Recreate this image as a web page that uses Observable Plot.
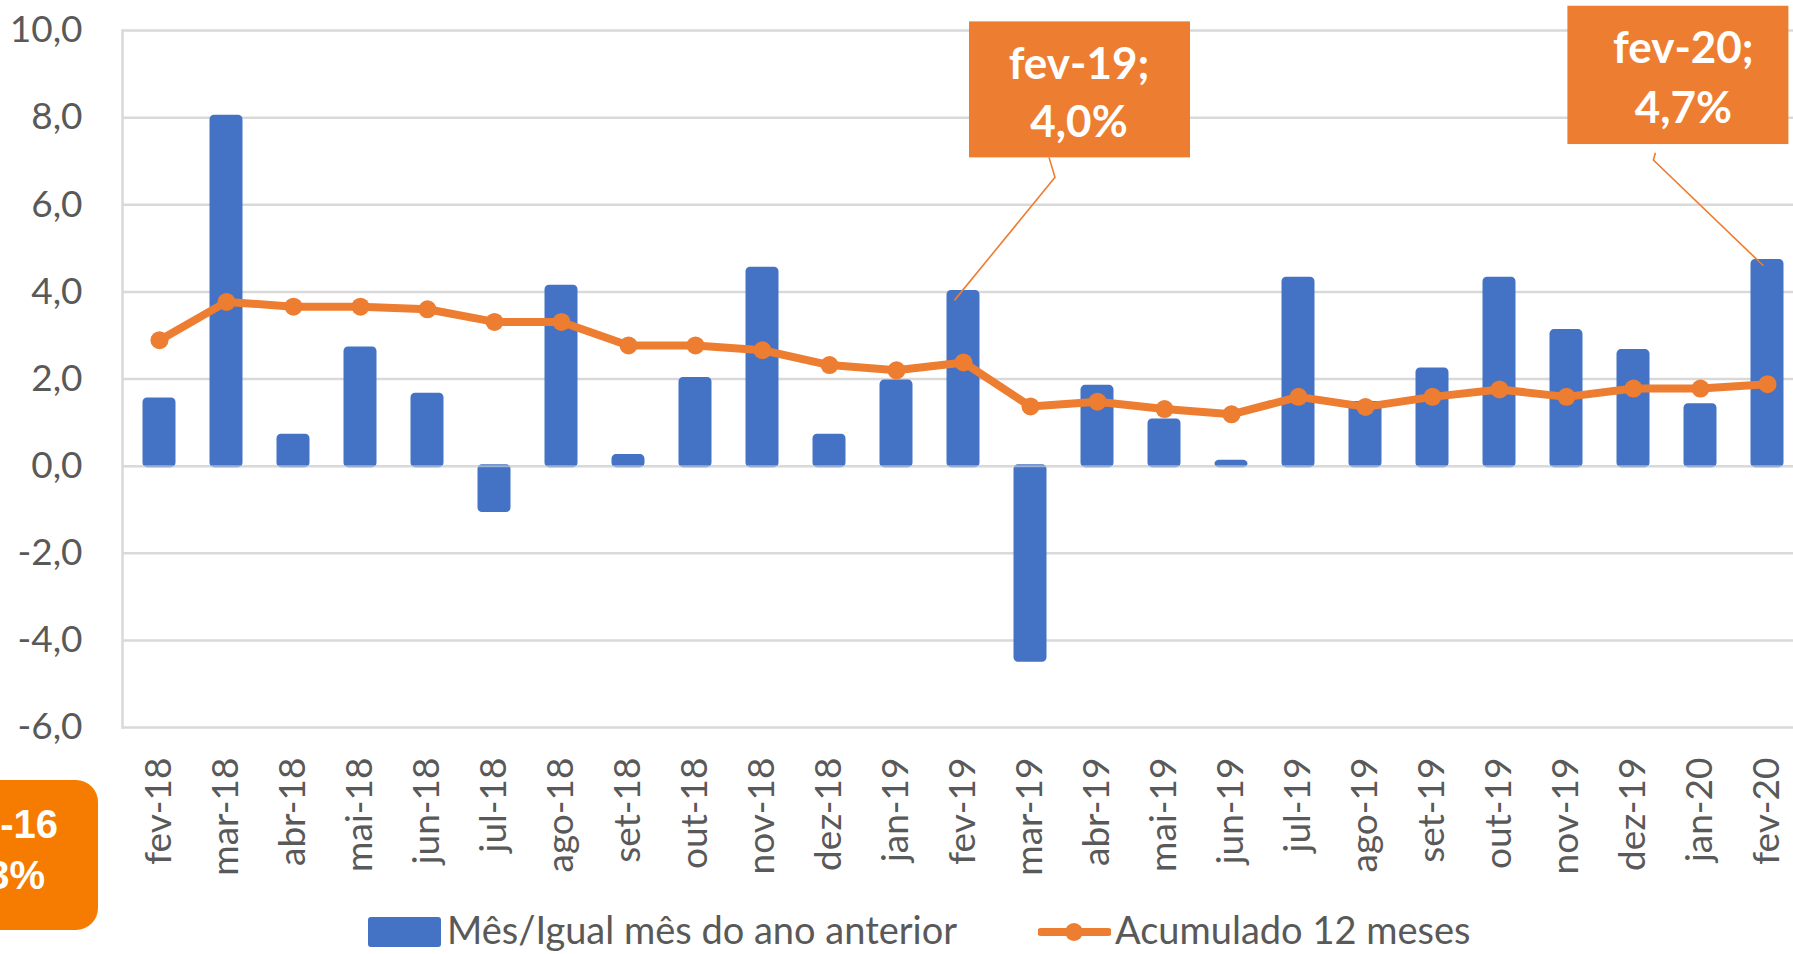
<!DOCTYPE html>
<html><head><meta charset="utf-8">
<script src="https://cdn.jsdelivr.net/npm/d3@7"></script>
<script src="https://cdn.jsdelivr.net/npm/@observablehq/plot@0.6"></script>
<style>
html,body{margin:0;padding:0;background:#fff;overflow:hidden;}
#wrap{position:relative;width:1793px;height:954px;overflow:hidden;font-family:Lato,sans-serif;background:#fff;}
#legend{position:relative;width:1793px;height:54px;}
.lg{position:absolute;font-family:Lato,sans-serif;font-size:38px;color:#595959;line-height:40px;white-space:nowrap;}
#overlay{position:absolute;left:0;top:0;pointer-events:none;}
</style></head>
<body><div id="wrap"><div id="chart"></div><div id="legend"></div></div>
<script>
// ---- data ----
const months = ["fev-18","mar-18","abr-18","mai-18","jun-18","jul-18","ago-18","set-18","out-18","nov-18","dez-18","jan-19","fev-19","mar-19","abr-19","mai-19","jun-19","jul-19","ago-19","set-19","out-19","nov-19","dez-19","jan-20","fev-20"];
const mensal = [1.53, 8.02, 0.7, 2.7, 1.64, -1.03, 4.12, 0.23, 2.0, 4.53, 0.7, 1.94, 4.0, -4.47, 1.82, 1.05, 0.1, 4.3, 1.45, 2.22, 4.3, 3.1, 2.64, 1.4, 4.71];
const acumulado = [2.89, 3.77, 3.66, 3.66, 3.6, 3.31, 3.31, 2.77, 2.77, 2.66, 2.32, 2.2, 2.38, 1.37, 1.48, 1.31, 1.19, 1.59, 1.36, 1.59, 1.76, 1.59, 1.78, 1.78, 1.88];
const yTicks = [-6, -4, -2, 0, 2, 4, 6, 8, 10];
const seriesNames = ["Mês/Igual mês do ano anterior", "Acumulado 12 meses"];
const calloutMonths = ["fev-19", "fev-20"];
const calloutValues = [4.0, 4.71];
const calloutLines = [["fev-19;", "4,0%"], ["fev-20;", "4,7%"]];
const sideNoteLines = ["-16", "3%"];

// ---- styles ----
const BLUE = "#4472C4", ORANGE = "#ED7D31", GRID = "#D9D9D9", TXT = "#595959";
const W = 1793, H = 900;
const padLeft = 122, stepX = 67.25, padTop = 30, plotBottom = 727;

const data = months.map((m, i) => ({m, v: mensal[i], a: acumulado[i]}));
const fmt = d => d.toFixed(1).replace(".", ",");

const chart = Plot.plot({
  width: W, height: H,
  marginLeft: padLeft, marginRight: 0, marginTop: padTop, marginBottom: H - plotBottom,
  style: {fontFamily: "Lato, sans-serif", fontSize: "37px", color: TXT, background: "white", overflow: "hidden"},
  x: {domain: months, range: [padLeft, padLeft + stepX * months.length], paddingInner: 0.55, paddingOuter: 0.275,
      label: null, tickRotate: -90, tickSize: 0, tickPadding: 30},
  y: {domain: [-6, 10], ticks: yTicks, tickFormat: fmt, label: null, tickSize: 0, tickPadding: 40},
  marks: [
    Plot.gridY(yTicks, {stroke: GRID, strokeOpacity: 1, strokeWidth: 2.5}),
    Plot.frame({anchor: "left", stroke: GRID, strokeWidth: 2.5}),
    Plot.barY(data, {x: "m", y: "v", fill: BLUE, stroke: BLUE, strokeWidth: 3, rx: 3}),
    Plot.ruleY([0], {stroke: GRID, strokeWidth: 2, strokeOpacity: 0.6}),
    Plot.line(data, {x: "m", y: "a", stroke: ORANGE, strokeWidth: 8}),
    Plot.dot(data, {x: "m", y: "a", r: 9, fill: ORANGE, stroke: "none"})
  ]
});
document.getElementById("chart").appendChild(chart);

// ---- callouts anchored on the data ----
const sx = chart.scale("x"), sy = chart.scale("y");
const bw = sx.bandwidth || 0;
const svg = d3.select(chart);
const calloutGeom = [
  {rect: [6, -270, 221, 136], tx: 116, ty: [-212.5, -154], lead: [[86, -134], [92, -114], [-8.6, 9]]},
  {rect: [-199.6, -254.7, 221, 138.3], tx: -83.6, ty: [-197, -137.5], lead: [[-111.6, -107.7], [-113.6, -100.4], [-3.6, 5.3]]}
];
calloutMonths.forEach((m, i) => {
  const ax = sx.apply(m) + bw / 2, ay = sy.apply(calloutValues[i]);
  const g = calloutGeom[i];
  const grp = svg.append("g");
  grp.append("path")
    .attr("d", d3.line()(g.lead.map(([dx, dy]) => [ax + dx, ay + dy])))
    .attr("fill", "none").attr("stroke", ORANGE).attr("stroke-width", 1.6);
  grp.append("rect")
    .attr("x", ax + g.rect[0]).attr("y", ay + g.rect[1])
    .attr("width", g.rect[2]).attr("height", g.rect[3])
    .attr("fill", ORANGE);
  calloutLines[i].forEach((t, j) => {
    grp.append("text").attr("x", ax + g.tx).attr("y", ay + g.ty[j])
      .attr("text-anchor", "middle").attr("fill", "white")
      .attr("font-family", "Lato, sans-serif").attr("font-weight", "bold").attr("font-size", "44px")
      .text(t);
  });
});

// ---- legend below the svg ----
const lg = d3.select("#legend");
lg.append("div").style("position", "absolute").style("left", "368px").style("top", "17px")
  .style("width", "73px").style("height", "30px").style("background", BLUE).style("border-radius", "3px");
lg.append("div").attr("class", "lg").style("left", "447px").style("top", "9px").text(seriesNames[0]);
const ls = lg.append("svg").attr("width", 73).attr("height", 54).style("position", "absolute").style("left", "1038px").style("top", "0px");
ls.append("line").attr("x1", 3).attr("x2", 70).attr("y1", 32).attr("y2", 32).attr("stroke", ORANGE).attr("stroke-width", 8).attr("stroke-linecap", "round");
ls.append("circle").attr("cx", 36).attr("cy", 32).attr("r", 9).attr("fill", ORANGE);
lg.append("div").attr("class", "lg").style("left", "1115px").style("top", "9px").text(seriesNames[1]);

// ---- partially visible side note (bottom-left) ----
const ov = d3.select("#wrap").append("svg").attr("id", "overlay").attr("width", W).attr("height", 954);
ov.append("rect").attr("x", -150).attr("y", 780).attr("width", 248).attr("height", 150).attr("rx", 22)
  .attr("fill", "#F57C00");
[[58, 838], [45, 889]].forEach(([x, y], j) => {
  ov.append("text").attr("x", x).attr("y", y).attr("text-anchor", "end").attr("fill", "white")
    .attr("font-family", "Liberation Sans, Arial, sans-serif").attr("font-weight", "bold").attr("font-size", "40px")
    .text(sideNoteLines[j]);
});
</script>
</body></html>
